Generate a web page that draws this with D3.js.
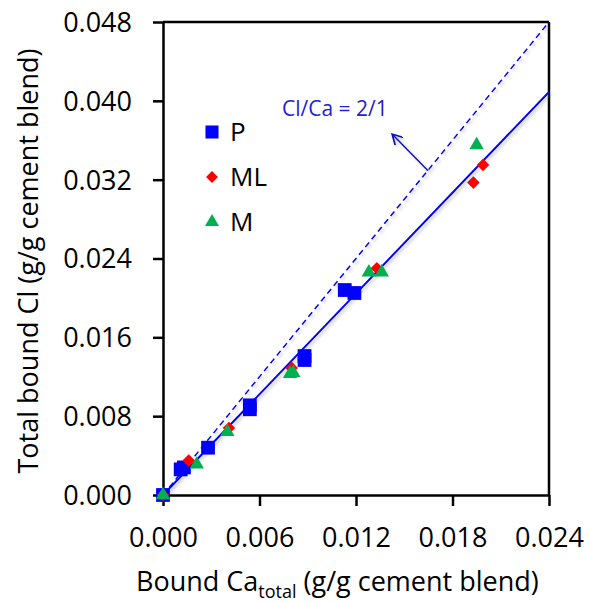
<!DOCTYPE html>
<html>
<head>
<meta charset="utf-8">
<script src="https://cdn.jsdelivr.net/npm/d3@7"></script>
<style>
  body { margin: 0; background: #fff; }
  text { font-family: "Open Sans", sans-serif; }
</style>
</head>
<body>
<div id="chart"></div>
<script>
// data
var pX = [0, 0.0011, 0.0013, 0.0028, 0.0054, 0.0054, 0.0088, 0.0088, 0.0113, 0.0119];
var pY = [0, 0.0026, 0.0028, 0.0048, 0.0087, 0.0091, 0.0137, 0.0141, 0.0208, 0.0205];
var mlX = [0, 0.0016, 0.0041, 0.0080, 0.0133, 0.0193, 0.0199];
var mlY = [0, 0.0035, 0.0068, 0.0129, 0.0230, 0.0317, 0.0335];
var mX = [0, 0.0021, 0.0040, 0.0079, 0.0081, 0.0128, 0.0136, 0.0195];
var mY = [0, 0.0031, 0.0064, 0.0123, 0.0124, 0.0226, 0.0226, 0.0355];
var fitLine = [[0, 0], [0.024, 0.0409]];
var ratioLine = [[0, 0], [0.024, 0.048]];
var arrowPts = [[0.01648, 0.03290], [0.0143, 0.03653]];
var xTicks = [0, 0.006, 0.012, 0.018, 0.024];
var yTicks = [0, 0.008, 0.016, 0.024, 0.032, 0.040, 0.048];
var seriesNames = ["P", "ML", "M"];

var margin = {top: 22, right: 41, bottom: 108, left: 163},
    width = 590 - margin.left - margin.right,
    height = 603 - margin.top - margin.bottom;

var svg = d3.select("#chart")
  .append("svg")
    .attr("width", 590)
    .attr("height", 603);

var defs = svg.append("defs");
defs.append("filter")
    .attr("id", "shadow")
    .attr("x", "-20%").attr("y", "-20%")
    .attr("width", "140%").attr("height", "140%")
  .append("feDropShadow")
    .attr("dx", 2).attr("dy", 2)
    .attr("stdDeviation", 1.5)
    .attr("flood-color", "#888")
    .attr("flood-opacity", 0.45);
defs.append("marker")
    .attr("id", "arrow")
    .attr("viewBox", "0 0 10 10")
    .attr("refX", 8).attr("refY", 5)
    .attr("markerWidth", 7).attr("markerHeight", 7)
    .attr("orient", "auto")
  .append("path")
    .attr("d", "M0,0 L9,5 L0,10")
    .attr("fill", "none")
    .attr("stroke", "#1010c0")
    .attr("stroke-width", 1.6);

var g = svg.append("g")
    .attr("transform", "translate(" + margin.left + "," + margin.top + ")");

var x = d3.scaleLinear().domain([0, 0.024]).range([0, width]);
var y = d3.scaleLinear().domain([0, 0.048]).range([height, 0]);

// frame
g.append("line").attr("x1", 0).attr("x2", width).attr("y1", 0).attr("y2", 0)
  .attr("stroke", "#000").attr("stroke-width", 2.5);
g.append("line").attr("x1", width).attr("x2", width).attr("y1", 0).attr("y2", height)
  .attr("stroke", "#000").attr("stroke-width", 2.5);

var xAxis = g.append("g")
    .attr("transform", "translate(0," + height + ")")
    .call(d3.axisBottom(x).tickValues(xTicks).tickFormat(d3.format(".3f")).tickSizeInner(11).tickSizeOuter(0).tickPadding(10));
var yAxis = g.append("g")
    .call(d3.axisLeft(y).tickValues(yTicks).tickFormat(d3.format(".3f")).tickSizeInner(10).tickSizeOuter(0).tickPadding(21));

[xAxis, yAxis].forEach(function(a) {
  a.select(".domain").attr("stroke", "#000").attr("stroke-width", 2.5);
  a.selectAll(".tick line").attr("stroke", "#000").attr("stroke-width", 2.5);
  a.selectAll(".tick text")
    .attr("fill", "#000")
    .style("font-family", "'Open Sans', sans-serif")
    .style("font-size", "27px");
});
xAxis.selectAll(".tick text").attr("y", 52).attr("dy", 0);
yAxis.selectAll(".tick text").attr("dy", "0.35em");

// lines
var line = d3.line().x(function(d) { return x(d[0]); }).y(function(d) { return y(d[1]); });
g.append("path").datum(ratioLine)
  .attr("d", line).attr("fill", "none")
  .attr("stroke", "#0000ff").attr("stroke-width", 1.5)
  .attr("stroke-dasharray", "6,4")
  .attr("filter", "url(#shadow)");
g.append("path").datum(fitLine)
  .attr("d", line).attr("fill", "none")
  .attr("stroke", "#0000ff").attr("stroke-width", 2)
  .attr("filter", "url(#shadow)");

// annotation
g.append("path").datum(arrowPts)
  .attr("d", line).attr("fill", "none")
  .attr("stroke", "#1010c0").attr("stroke-width", 1.6)
  .attr("marker-end", "url(#arrow)")
  .attr("filter", "url(#shadow)");
g.append("text")
  .attr("x", x(0.0074)).attr("y", y(0.03846))
  .attr("fill", "#2222cc")
  .style("font-size", "21px")
  .text("Cl/Ca = 2/1");

// points
var sym = {
  P: d3.symbol().type(d3.symbolSquare).size(190),
  ML: d3.symbol().type(d3.symbolDiamond2).size(100),
  M: d3.symbol().type(d3.symbolTriangle).size(90)
};
var color = {P: "#0000ff", ML: "#ff0000", M: "#00b050"};
var seriesData = {
  P: pX.map(function(v, i) { return [v, pY[i]]; }),
  ML: mlX.map(function(v, i) { return [v, mlY[i]]; }),
  M: mX.map(function(v, i) { return [v, mY[i]]; })
};

seriesNames.forEach(function(name) {
  g.selectAll(".pt-" + name)
    .data(seriesData[name])
    .enter()
    .append("path")
      .attr("class", "pt-" + name)
      .attr("d", sym[name])
      .attr("transform", function(d) { return "translate(" + x(d[0]) + "," + y(d[1]) + ")"; })
      .attr("fill", color[name]);
});

// legend
var legSym = {
  P: d3.symbol().type(d3.symbolSquare).size(170),
  ML: d3.symbol().type(d3.symbolDiamond2).size(90),
  M: d3.symbol().type(d3.symbolTriangle).size(85)
};
var legend = g.selectAll(".legend")
  .data(seriesNames)
  .enter()
  .append("g")
    .attr("class", "legend")
    .attr("transform", function(d, i) { return "translate(49," + (110 + i * 45) + ")"; });
legend.append("path")
  .attr("d", function(d) { return legSym[d](); })
  .attr("fill", function(d) { return color[d]; });
legend.append("text")
  .attr("x", 18).attr("dy", "0.36em")
  .style("font-size", "26px")
  .attr("fill", "#000")
  .text(function(d) { return d; });

// axis titles
var xt = svg.append("text")
  .attr("x", 136).attr("y", 591)
  .attr("fill", "#000")
  .style("font-size", "27px");
xt.append("tspan").text("Bound Ca");
xt.append("tspan").attr("dy", 7).style("font-size", "18px").text("total");
xt.append("tspan").attr("dy", -7).text(" (g/g cement blend)");

svg.append("text")
  .attr("transform", "translate(38," + 261 + ") rotate(-90)")
  .attr("text-anchor", "middle")
  .attr("fill", "#000")
  .style("font-size", "27px")
  .text("Total bound Cl (g/g cement blend)");
</script>
</body>
</html>
